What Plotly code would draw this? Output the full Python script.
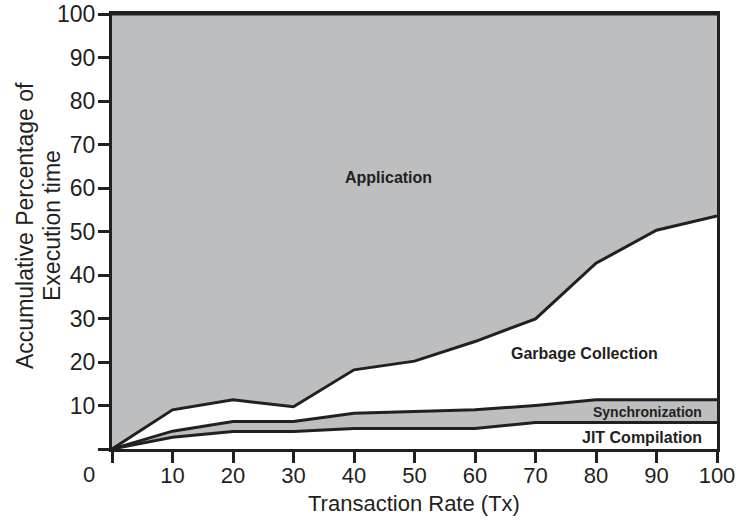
import plotly.graph_objects as go

# Transaction rate (x) and cumulative percentages of execution time
tx = [0, 10, 20, 30, 40, 50, 60, 70, 80, 90, 100]
jit_cum = [0, 2.7, 4.0, 4.0, 4.7, 4.7, 4.7, 6.1, 6.1, 6.1, 6.1]
sync_cum = [0, 4.1, 6.3, 6.3, 8.2, 8.6, 9.0, 10.0, 11.3, 11.3, 11.3]
gc_cum = [0, 9.0, 11.3, 9.7, 18.2, 20.2, 24.7, 29.9, 42.7, 50.3, 53.6]
app_cum = [100, 100, 100, 100, 100, 100, 100, 100, 100, 100, 100]

x_ticks = [0, 10, 20, 30, 40, 50, 60, 70, 80, 90, 100]
x_ticktext = ["", "10", "20", "30", "40", "50", "60", "70", "80", "90", "100"]
y_ticks = [0, 10, 20, 30, 40, 50, 60, 70, 80, 90, 100]
y_ticktext = ["", "10", "20", "30", "40", "50", "60", "70", "80", "90", "100"]

DARK = "#231f20"
GRAY = "#bcbec0"

fig = go.Figure()
layers = [
    ("JIT Compilation", jit_cum, "tozeroy", "white"),
    ("Synchronization", sync_cum, "tonexty", GRAY),
    ("Garbage Collection", gc_cum, "tonexty", "white"),
    ("Application", app_cum, "tonexty", GRAY),
]
for name, ys, fill, col in layers:
    fig.add_trace(go.Scatter(
        x=tx, y=ys, name=name, mode="lines", fill=fill, fillcolor=col,
        line=dict(color=DARK, width=3), hoverinfo="skip", showlegend=False,
    ))

L, R, T, B = 112, 22, 14, 74
W, H = 739, 523
pw, ph = W - L - R, H - T - B

def px2paper(px, py):
    return (px - L) / pw, (H - B - py) / ph

font_family = "Liberation Sans, Arial, sans-serif"

def text_anno(text, px, py, sz, angle=0):
    ax, ay = px2paper(px, py)
    return dict(text=text, x=ax, y=ay, xref="paper", yref="paper",
                showarrow=False, xanchor="center", yanchor="middle", textangle=angle,
                font=dict(size=sz, color=DARK, family=font_family))

annotations = [
    text_anno("<b>Application</b>", 388, 177, 16),
    text_anno("<b>Garbage Collection</b>", 584, 354, 16),
    text_anno("<b>Synchronization</b>", 647, 412, 14),
    text_anno("<b>JIT Compilation</b>", 642, 437, 16),
    text_anno("0", 89, 474, 22),
    text_anno("Accumulative Percentage of", 25, 226, 23, -90),
    text_anno("Execution time", 52, 226, 23, -90),
    text_anno("Transaction Rate (Tx)", 414, 503, 22),
]

fig.update_layout(
    width=W, height=H,
    margin=dict(l=L, r=R, t=T, b=B, pad=0, autoexpand=False),
    paper_bgcolor="white", plot_bgcolor="white",
    font=dict(family=font_family, color=DARK),
    annotations=annotations,
    xaxis=dict(
        range=[0, 100], tickvals=x_ticks, ticktext=x_ticktext,
        showline=True, linecolor=DARK, linewidth=3, mirror=True,
        ticks="outside", ticklen=11, tickwidth=3, tickcolor=DARK,
        showgrid=False, zeroline=False, automargin=False,
        tickfont=dict(size=22, color=DARK), ticklabelstandoff=-6,
    ),
    yaxis=dict(
        range=[0, 100], tickvals=y_ticks, ticktext=y_ticktext,
        showline=True, linecolor=DARK, linewidth=3, mirror=True,
        ticks="outside", ticklen=11, tickwidth=3, tickcolor=DARK,
        showgrid=False, zeroline=False, automargin=False,
        tickfont=dict(size=23, color=DARK), ticklabelstandoff=-2,
    ),
)

fig.write_html("out.html", config={"displayModeBar": False},
               post_script="document.body.style.margin='0';")
